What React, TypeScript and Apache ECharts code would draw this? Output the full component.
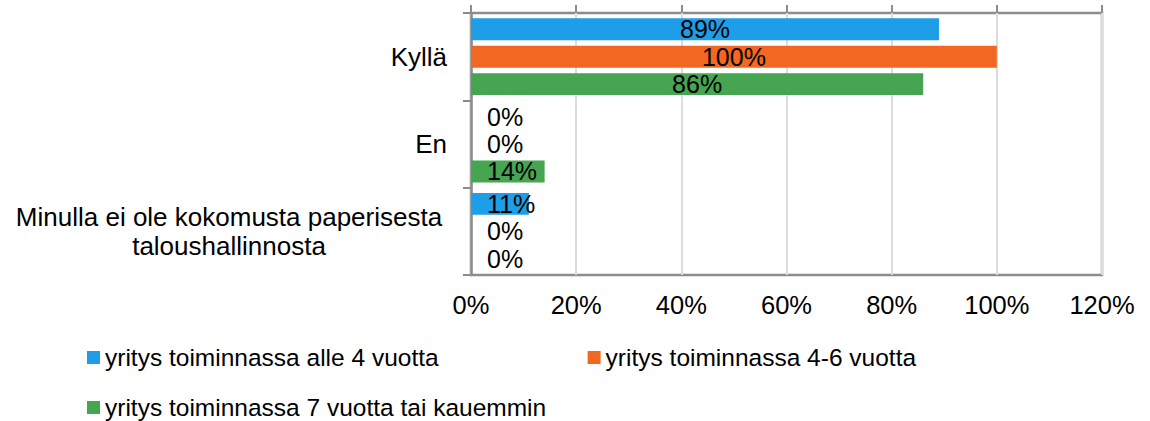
import React, { useEffect, useRef } from "react";
import * as echarts from "echarts";

const categories = [
  "Kyllä",
  "En",
  "Minulla ei ole kokomusta paperisesta\ntaloushallinnosta",
];
const seriesNames = [
  "yritys toiminnassa alle 4 vuotta",
  "yritys toiminnassa 4-6 vuotta",
  "yritys toiminnassa 7 vuotta tai kauemmin",
];
const seriesValues = [
  [89, 0, 11],
  [100, 0, 0],
  [86, 14, 0],
];
const seriesColors = ["#1E9DE8", "#F26722", "#45A551"];
const xTicks = [0, 20, 40, 60, 80, 100, 120];

const FONT = "Liberation Sans, Arial, sans-serif";

export default function App() {
  const ref = useRef<HTMLDivElement>(null);
  useEffect(() => {
    if (!ref.current) return;
    const chart = echarts.init(ref.current, undefined, { renderer: "svg" });
    const labelBase = {
      show: true,
      formatter: (p: any) => `${p.value}%`,
      color: "#000",
      fontSize: 25,
      fontFamily: FONT,
    };
    const legendText = { fontSize: 24.5, color: "#000", fontFamily: FONT };
    chart.setOption({
      animation: false,
      textStyle: { fontFamily: FONT },
      grid: {
        left: 471,
        right: 48,
        top: 13,
        bottom: 146,
        show: true,
        borderColor: "#8C8C8C",
        borderWidth: 2.5,
        containLabel: false,
      },
      legend: [
        {
          data: seriesNames.slice(0, 2),
          left: 82,
          top: 340,
          icon: "rect",
          itemWidth: 13,
          itemHeight: 13,
          itemGap: 149,
          textStyle: legendText,
        },
        {
          data: seriesNames.slice(2),
          left: 82,
          top: 390,
          icon: "rect",
          itemWidth: 13,
          itemHeight: 13,
          textStyle: legendText,
        },
      ],
      xAxis: [
        {
          type: "value",
          position: "bottom",
          min: xTicks[0],
          max: xTicks[xTicks.length - 1],
          interval: 20,
          axisLine: { show: false },
          axisTick: { show: false },
          axisLabel: {
            formatter: (v: number) => `${v}%`,
            fontSize: 25.5,
            color: "#000",
            margin: 17,
            fontFamily: FONT,
          },
          splitLine: { show: true, lineStyle: { color: "#DCDCDC", width: 2 } },
        },
        {
          type: "value",
          position: "top",
          min: xTicks[0],
          max: xTicks[xTicks.length - 1],
          interval: 20,
          axisLine: { show: false },
          axisTick: { show: true, length: 8, lineStyle: { color: "#8C8C8C", width: 2 } },
          axisLabel: { show: false },
          splitLine: { show: false },
        },
      ],
      yAxis: {
        type: "category",
        inverse: true,
        data: categories,
        axisLine: { show: true, lineStyle: { color: "#8C8C8C", width: 2.5 } },
        axisTick: { show: true, length: 8, lineStyle: { color: "#8C8C8C", width: 2 } },
        axisLabel: {
          fontSize: 26,
          color: "#000",
          margin: 24,
          fontFamily: FONT,
          lineHeight: 29,
          formatter: (v: string) => (v.includes("\n") ? `{c|${v}}` : v),
          rich: {
            c: {
              width: 436,
              align: "center",
              fontSize: 26,
              lineHeight: 29,
              color: "#000",
              fontFamily: FONT,
            },
          },
        },
      },
      series: seriesNames.map((name, i) => ({
        name,
        type: "bar",
        xAxisIndex: 0,
        barCategoryGap: "12%",
        barGap: "25%",
        itemStyle: { color: seriesColors[i] },
        data: seriesValues[i].map((v) => ({
          value: v,
          label:
            v < 20
              ? { ...labelBase, position: "insideLeft", distance: 16 }
              : { ...labelBase, position: "inside" },
        })),
      })),
    });
    return () => chart.dispose();
  }, []);
  return (
    <div
      ref={ref}
      style={{ position: "absolute", left: 0, top: 0, width: 1150, height: 421 }}
    />
  );
}
